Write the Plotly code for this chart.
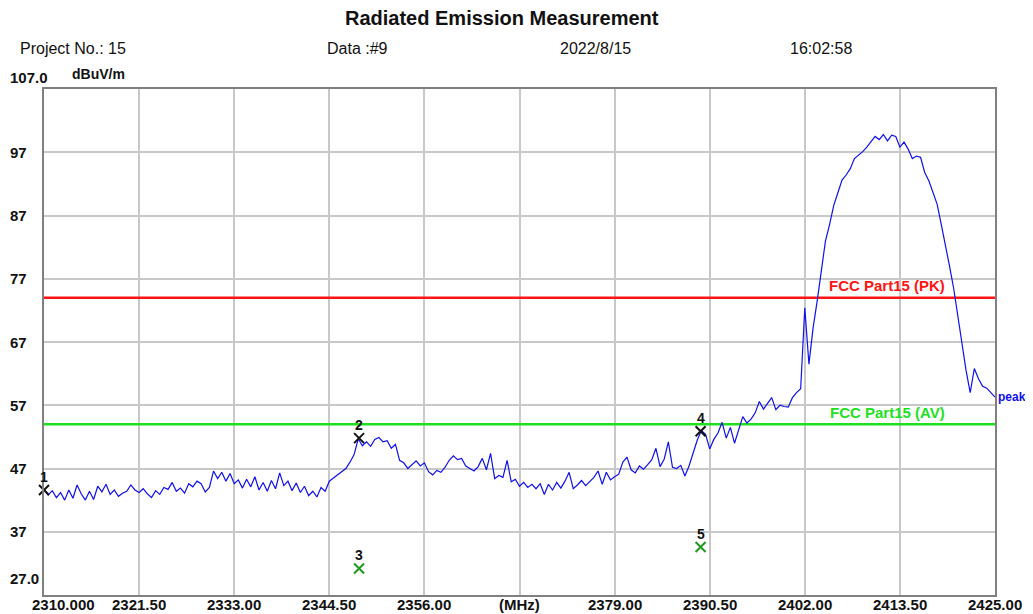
import plotly.graph_objects as go

# ---------------- data ----------------
f_start = 2310.0
f_stop = 2425.0
f_step = 0.5
peak_values = [
    43.7, 42.8, 43.5, 42.4, 43.2, 42.0, 43.6, 42.3, 44.4, 43.0,
    42.0, 43.4, 42.1, 44.2, 43.3, 44.5, 42.9, 43.6, 42.6, 43.1,
    43.4, 44.4, 43.6, 43.2, 43.8, 43.0, 42.4, 43.5, 42.9, 44.0,
    43.7, 44.8, 43.4, 43.9, 43.1, 44.6, 44.1, 45.0, 44.6, 43.3,
    44.0, 46.6, 45.4, 46.4, 45.0, 46.2, 44.6, 45.2, 43.9, 45.3,
    44.1, 45.7, 43.6, 44.8, 43.4, 45.1, 43.8, 46.3, 44.3, 45.0,
    43.5, 44.7, 43.2, 44.2, 42.7, 43.4, 42.5, 44.0, 43.4, 45.0,
    45.5, 46.0, 46.4, 47.0, 48.0, 49.2, 51.7, 50.6, 51.2, 50.5,
    51.6, 51.9, 51.2, 51.4, 50.2, 50.8, 48.3, 47.9, 47.0, 47.6,
    48.2, 47.4, 47.9, 46.5, 46.0, 46.7, 46.4, 47.2, 48.3, 49.0,
    48.4, 48.6, 47.4, 47.0, 46.6, 47.3, 48.6, 46.8, 49.4, 45.4,
    45.9, 45.6, 48.3, 44.9, 45.3, 44.2, 44.8, 44.0, 44.5, 43.8,
    44.6, 42.9, 44.5, 43.6, 44.8, 43.9, 45.0, 46.4, 43.8, 44.4,
    45.1, 44.3, 45.0, 45.6, 46.6, 44.5, 46.4, 45.2, 45.7, 46.1,
    48.0, 48.8, 46.8, 46.3, 47.4, 46.9, 47.6, 48.4, 50.2, 47.3,
    48.5, 51.2, 47.2, 47.0, 47.5, 45.8, 47.4, 49.3, 51.5, 53.0,
    52.4, 50.1, 51.6, 52.6, 54.3, 51.8, 53.5, 51.0, 53.1, 55.2,
    54.2, 54.8, 55.8, 57.6, 56.4, 57.4, 58.2, 56.3, 57.0, 56.8,
    56.7, 58.2, 59.0, 59.6, 72.4, 63.5, 69.2, 73.5, 78.4, 83.0,
    85.6, 88.6, 90.6, 92.6, 93.4, 94.4, 96.0, 96.5, 97.1, 97.8,
    98.6, 99.5, 99.0, 99.8, 98.8, 99.7, 99.5, 97.8, 98.6, 97.5,
    96.0, 96.4, 96.2, 93.8, 92.5, 90.6, 88.8, 85.6, 82.5, 79.0,
    75.5, 71.0, 66.8, 62.5, 59.0, 62.8, 61.2, 60.0, 59.7, 59.0,
    58.3,
]
freqs = [f_start + f_step * i for i in range(len(peak_values))]

limit_pk = 74.0
limit_av = 54.0

marker_ids = ["1", "2", "3", "4", "5"]
marker_freq = [2310.0, 2348.1, 2348.1, 2389.4, 2389.4]
marker_level = [43.6, 51.8, 31.2, 52.9, 34.6]
marker_kind = ["pk", "pk", "av", "pk", "av"]

y_min, y_max = 27.0, 107.0
y_tick_vals = [107, 97, 87, 77, 67, 57, 47, 37, 27]
y_tick_text = ["107.0", "97", "87", "77", "67", "57", "47", "37", "27.0"]
x_tick_vals = [2310.0, 2321.5, 2333.0, 2344.5, 2356.0, 2367.5, 2379.0, 2390.5, 2402.0, 2413.5, 2425.0]
x_tick_text = ["2310.000", "2321.50", "2333.00", "2344.50", "2356.00", "(MHz)",
               "2379.00", "2390.50", "2402.00", "2413.50", "2425.00"]

# ---------------- layout geometry ----------------
# the page body has an 8px margin, so the figure is offset by 8px in the window
OFF = 8
WIN_W, WIN_H = 1033, 614
PLOT_L, PLOT_R, PLOT_T, PLOT_B = 44, 995, 89, 595   # plot area in window pixels
W, H = WIN_W - OFF, WIN_H - OFF
L = PLOT_L - OFF
T = PLOT_T - OFF
R = W - (PLOT_R - OFF)
B = H - (PLOT_B - OFF)
PW = PLOT_R - PLOT_L
PH = PLOT_B - PLOT_T


def px(x):
    return (x - PLOT_L) / PW


def py(y):
    return (PLOT_B - y) / PH


FONT = "Arial, Liberation Sans, sans-serif"
fig = go.Figure()

# limit lines
fig.add_trace(go.Scatter(x=[f_start, f_stop], y=[limit_pk, limit_pk], mode="lines",
                         line=dict(color="#ff1414", width=2.5), hoverinfo="skip"))
fig.add_trace(go.Scatter(x=[f_start, f_stop], y=[limit_av, limit_av], mode="lines",
                         line=dict(color="#1ee01e", width=2.5), hoverinfo="skip"))

# trace
fig.add_trace(go.Scatter(x=freqs, y=peak_values, mode="lines",
                         line=dict(color="#1010ee", width=1.2)))

# markers
cols = ["#111111" if k == "pk" else "#1f9a1f" for k in marker_kind]
fig.add_trace(go.Scatter(x=marker_freq, y=marker_level, mode="markers",
                         marker=dict(symbol="x-thin", size=10, color=cols,
                                     line=dict(color=cols, width=2)),
                         cliponaxis=False))

annotations = []
for mid, mf, ml in zip(marker_ids, marker_freq, marker_level):
    annotations.append(dict(x=mf, y=ml, xref="x", yref="y", text="<b>%s</b>" % mid,
                            showarrow=False, yshift=13,
                            font=dict(family=FONT, size=14, color="#111111")))

# y labels (left aligned)
for v, t in zip(y_tick_vals, y_tick_text):
    shift = 0
    if v == y_max:
        shift = 12
    elif v == y_min:
        shift = 17
    annotations.append(dict(x=px(8), y=v, xref="paper", yref="y", text="<b>%s</b>" % t,
                            xanchor="left", yanchor="middle", showarrow=False, yshift=shift,
                            font=dict(family=FONT, size=15, color="#111111")))

# x labels
for v, t in zip(x_tick_vals, x_tick_text):
    if v == f_start:
        annotations.append(dict(x=px(30), y=py(604), xref="paper", yref="paper",
                                text="<b>%s</b>" % t, xanchor="left", yanchor="middle",
                                showarrow=False, font=dict(family=FONT, size=15, color="#111111")))
    else:
        annotations.append(dict(x=v, y=py(604), xref="x", yref="paper",
                                text="<b>%s</b>" % t, xanchor="center", yanchor="middle",
                                showarrow=False, font=dict(family=FONT, size=15, color="#111111")))

# header texts
annotations += [
    dict(x=px(502), y=py(18), xref="paper", yref="paper", text="<b>Radiated Emission Measurement</b>",
         showarrow=False, xanchor="center", yanchor="middle", font=dict(family=FONT, size=20, color="#111111")),
    dict(x=px(18), y=py(48), xref="paper", yref="paper", text="Project No.: 15",
         showarrow=False, xanchor="left", yanchor="middle", font=dict(family=FONT, size=16, color="#111111")),
    dict(x=px(357), y=py(48), xref="paper", yref="paper", text="Data :#9",
         showarrow=False, xanchor="center", yanchor="middle", font=dict(family=FONT, size=16, color="#111111")),
    dict(x=px(595), y=py(48), xref="paper", yref="paper", text="2022/8/15",
         showarrow=False, xanchor="center", yanchor="middle", font=dict(family=FONT, size=16, color="#111111")),
    dict(x=px(821), y=py(48), xref="paper", yref="paper", text="16:02:58",
         showarrow=False, xanchor="center", yanchor="middle", font=dict(family=FONT, size=16, color="#111111")),
    dict(x=px(70), y=py(74), xref="paper", yref="paper", text="<b>dBuV/m</b>",
         showarrow=False, xanchor="left", yanchor="middle", font=dict(family=FONT, size=14, color="#111111")),
    dict(x=px(887), y=limit_pk, xref="paper", yref="y", text="<b>FCC Part15 (PK)</b>", yshift=12,
         showarrow=False, xanchor="center", yanchor="middle", font=dict(family=FONT, size=15, color="#ff1414")),
    dict(x=px(887), y=limit_av, xref="paper", yref="y", text="<b>FCC Part15 (AV)</b>", yshift=12,
         showarrow=False, xanchor="center", yanchor="middle", font=dict(family=FONT, size=15, color="#1ee01e")),
    dict(x=px(996), y=peak_values[-1], xref="paper", yref="y", text="<b>peak</b>",
         showarrow=False, xanchor="left", yanchor="middle", font=dict(family=FONT, size=12, color="#1010ee")),
]

fig.update_layout(
    width=W, height=H,
    margin=dict(l=L, r=R, t=T, b=B, pad=0),
    paper_bgcolor="white", plot_bgcolor="white",
    showlegend=False,
    annotations=annotations,
    xaxis=dict(range=[f_start, f_stop], tickmode="array", tickvals=x_tick_vals, showticklabels=False,
               showgrid=True, gridcolor="#c8c8c8", gridwidth=1.5, zeroline=False,
               showline=True, linecolor="#808080", linewidth=2, mirror=True, ticks=""),
    yaxis=dict(range=[y_min, y_max], tickmode="array", tickvals=y_tick_vals, showticklabels=False,
               showgrid=True, gridcolor="#c8c8c8", gridwidth=1.5, zeroline=False,
               showline=True, linecolor="#808080", linewidth=2, mirror=True, ticks=""),
)

fig.write_html("out.html")
